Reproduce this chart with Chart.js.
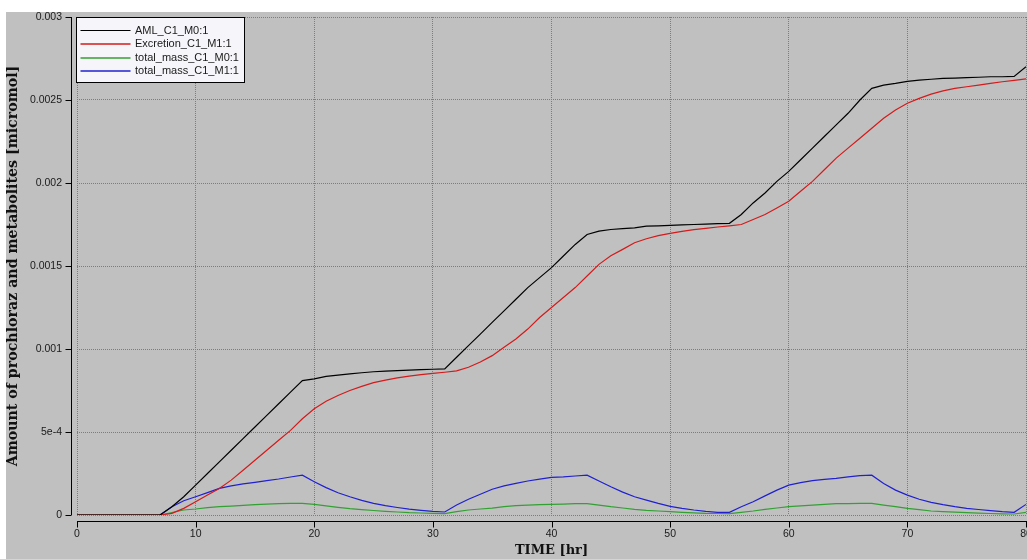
<!DOCTYPE html>
<html>
<head>
<meta charset="utf-8">
<title>Prochloraz amounts</title>
<script src="https://cdn.jsdelivr.net/npm/chart.js@4/dist/chart.umd.min.js"></script>
<style>
  html, body { margin: 0; padding: 0; background: #ffffff; }
  #wrap { width: 1027px; height: 559px; position: relative; }
</style>
</head>
<body>
<div id="wrap"><canvas id="c" width="1027" height="559"></canvas></div>
<script>
// Simulation time points [hr]
const timeHr = [0, 7, 8, 9, 10, 11, 12, 13, 14, 15, 16, 17, 18, 19, 20, 21, 22, 23, 24, 25, 26, 27, 28, 29, 30,
  31, 32, 33, 34, 35, 36, 37, 38, 39, 40, 41, 42, 43, 44, 45, 46, 47, 48, 49, 50, 51, 52, 53, 54,
  55, 56, 57, 58, 59, 60, 61, 62, 63, 64, 65, 66, 67, 68, 69, 70, 71, 72, 73, 74, 75, 76, 77, 78, 79, 80];

// Amounts [micromol]
const amlM0 = [0, 0, 0.00005, 0.00011, 0.00018, 0.00025, 0.00032, 0.00039, 0.00046, 0.00053, 0.0006, 0.00067, 0.00074, 0.00081,
  0.00082, 0.000835, 0.000843, 0.00085, 0.000857, 0.000863, 0.000867, 0.00087, 0.000873, 0.000876, 0.000878,
  0.00088, 0.00095, 0.00102, 0.00109, 0.00116, 0.00123, 0.0013, 0.00137, 0.00143, 0.00149, 0.00156, 0.00163, 0.00169,
  0.00171, 0.00172, 0.001725, 0.00173, 0.00174, 0.001742, 0.001745, 0.001748, 0.00175, 0.001752, 0.001755,
  0.001757, 0.00181, 0.00188, 0.00194, 0.00201, 0.00207, 0.00214, 0.00221, 0.00228, 0.00235, 0.00242, 0.0025, 0.00257,
  0.00259, 0.0026, 0.002612, 0.00262, 0.002625, 0.00263, 0.002632, 0.002635, 0.002637, 0.00264, 0.00264, 0.002642, 0.0027];

const excretionM1 = [0, 0, 0.00001, 0.00004, 0.00008, 0.00012, 0.00016, 0.00021, 0.00027, 0.00033, 0.00039, 0.00045, 0.00051, 0.00058,
  0.00064, 0.000685, 0.00072, 0.00075, 0.000775, 0.000797, 0.000813, 0.000826, 0.000837, 0.000846, 0.000853,
  0.00086, 0.000868, 0.00089, 0.000922, 0.00096, 0.00101, 0.00106, 0.00112, 0.00119, 0.00125, 0.00131, 0.00137, 0.00144,
  0.00151, 0.001562, 0.0016, 0.00164, 0.001664, 0.001683, 0.001697, 0.001709, 0.001719, 0.001727, 0.001735,
  0.001742, 0.00175, 0.00178, 0.00181, 0.00185, 0.00189, 0.00195, 0.00201, 0.00208, 0.00215, 0.00221, 0.00227, 0.00233,
  0.00239, 0.00244, 0.00248, 0.00251, 0.002535, 0.002555, 0.00257, 0.00258, 0.00259, 0.0026, 0.00261, 0.002618, 0.002627];

const totalMassM0 = [0, 0, 0.000015, 0.00003, 0.000036, 0.000044, 0.00005, 0.000054, 0.000058, 0.000062, 0.000066, 0.000068, 0.00007, 0.00007,
  0.000064, 0.000055, 0.000046, 0.000038, 0.000032, 0.000027, 0.000022, 0.000018, 0.000014, 0.000012, 0.00001,
  0.000008, 0.00002, 0.00003, 0.000036, 0.000042, 0.00005, 0.000056, 0.00006, 0.000062, 0.000064, 0.000066, 0.000068, 0.000068,
  0.00006, 0.00005, 0.000042, 0.000034, 0.000028, 0.000024, 0.00002, 0.000016, 0.000013, 0.00001, 0.000009,
  0.000008, 0.000016, 0.000024, 0.000034, 0.000042, 0.00005, 0.000055, 0.00006, 0.000064, 0.000068, 0.000069, 0.00007, 0.00007,
  0.00006, 0.00005, 0.00004, 0.000032, 0.000024, 0.00002, 0.000017, 0.000014, 0.000011, 0.000009, 0.000007, 0.000006, 0.000016];

const totalMassM1 = [0, 0, 0.00005, 0.000086, 0.00011, 0.000135, 0.00016, 0.000175, 0.000187, 0.000197, 0.000207, 0.000217, 0.000229, 0.00024,
  0.0002, 0.000165, 0.000134, 0.00011, 0.000088, 0.00007, 0.000056, 0.000045, 0.000035, 0.000028, 0.000022,
  0.000018, 0.00006, 0.000095, 0.000125, 0.000155, 0.000175, 0.00019, 0.000205, 0.000216, 0.000227, 0.00023, 0.000235, 0.00024,
  0.000205, 0.00017, 0.000138, 0.00011, 0.00009, 0.00007, 0.000052, 0.00004, 0.00003, 0.000022, 0.000016,
  0.000016, 0.00005, 0.00008, 0.000115, 0.00015, 0.00018, 0.000195, 0.000207, 0.000215, 0.000221, 0.00023, 0.000237, 0.00024,
  0.00019, 0.00015, 0.00012, 0.000095, 0.000076, 0.000062, 0.00005, 0.00004, 0.000033, 0.000026, 0.00002, 0.000016, 0.000064];

const seriesNames = ['AML_C1_M0:1', 'Excretion_C1_M1:1', 'total_mass_C1_M0:1', 'total_mass_C1_M1:1'];
const seriesColors = ['#000000', '#d41a1a', '#33a033', '#2020d0'];

const xTickLabels = ['0', '10', '20', '30', '40', '50', '60', '70', '80'];
const yTickLabels = ['0', '5e-4', '0.001', '0.0015', '0.002', '0.0025', '0.003'];

const toPoints = vals => timeHr.map((t, i) => ({ x: t, y: vals[i] }));
const seriesValues = [amlM0, excretionM1, totalMassM0, totalMassM1];

const tickFont = { family: 'Liberation Sans, Arial, sans-serif', size: 10.5 };
const gridStyle = {
  color: '#7c7c7c',
  lineWidth: 1,
  drawTicks: true,
  tickLength: 10,
  tickColor: 'rgba(0,0,0,0)'
};
// dotted grid lines, no border at the plot edge
const borderStyle = { display: false, dash: [1, 1] };

// Grey panel behind everything
const panelPlugin = {
  id: 'panel',
  beforeDraw(chart) {
    const ctx = chart.ctx;
    ctx.save();
    ctx.fillStyle = '#ffffff';
    ctx.fillRect(0, 0, chart.width, chart.height);
    ctx.fillStyle = '#c0c0c0';
    ctx.fillRect(6, 12, chart.width - 6, chart.height - 12);
    ctx.restore();
  }
};

// Detached axis lines with outward tick marks, and the boxed legend
const axesAndLegendPlugin = {
  id: 'axesAndLegend',
  afterDraw(chart) {
    const ctx = chart.ctx;
    const area = chart.chartArea;
    const xs = chart.scales.x, ys = chart.scales.y;
    ctx.save();
    ctx.setLineDash([]);
    ctx.strokeStyle = '#000000';
    ctx.lineWidth = 1;
    ctx.beginPath();
    const ax = Math.round(area.left) - 6 + 0.5;
    ctx.moveTo(ax, Math.round(area.top));
    ctx.lineTo(ax, Math.round(area.bottom));
    ys.ticks.forEach(t => {
      const y = Math.round(ys.getPixelForValue(t.value)) + 0.5;
      ctx.moveTo(ax - 6, y);
      ctx.lineTo(ax, y);
    });
    const ay = Math.round(area.bottom) + 6 + 0.5;
    ctx.moveTo(Math.round(area.left), ay);
    ctx.lineTo(chart.width, ay);
    xs.ticks.forEach(t => {
      const x = Math.round(xs.getPixelForValue(t.value)) + 0.5;
      ctx.moveTo(x, ay);
      ctx.lineTo(x, ay + 6);
    });
    ctx.stroke();

    // legend box
    const lx = Math.round(area.left) - 0.5, ly = Math.round(area.top) + 0.5;
    const lw = 168, lh = 65;
    ctx.fillStyle = '#f5f5fa';
    ctx.fillRect(lx, ly, lw, lh);
    ctx.strokeStyle = '#000000';
    ctx.strokeRect(lx, ly, lw, lh);
    ctx.font = '11px "Liberation Sans", Arial, sans-serif';
    ctx.textBaseline = 'middle';
    ctx.textAlign = 'left';
    chart.data.datasets.forEach((ds, i) => {
      const y = Math.round(ly + 12.5 + i * 13.4) + 0.5;
      ctx.strokeStyle = ds.borderColor;
      ctx.lineWidth = i === 0 ? 1 : 1.6;
      ctx.beginPath();
      ctx.moveTo(lx + 4, i === 0 ? y : y + 0.5);
      ctx.lineTo(lx + 54, i === 0 ? y : y + 0.5);
      ctx.stroke();
      ctx.fillStyle = '#1a1a1a';
      ctx.fillText(ds.label, lx + 58.5, y);
    });
    ctx.restore();
  }
};

new Chart(document.getElementById('c'), {
  type: 'line',
  data: {
    datasets: seriesValues.map((vals, i) => ({
      label: seriesNames[i],
      data: toPoints(vals),
      borderColor: seriesColors[i],
      backgroundColor: seriesColors[i],
      borderWidth: 1.2,
      pointRadius: 0,
      tension: 0,
      fill: false
    }))
  },
  options: {
    responsive: false,
    animation: false,
    events: [],
    layout: { padding: { top: 17, right: 1, left: 0, bottom: 0 } },
    plugins: {
      legend: { display: false },
      tooltip: { enabled: false }
    },
    scales: {
      x: {
        type: 'linear',
        min: 0,
        max: 80,
        border: borderStyle,
        grid: Object.assign({}, gridStyle),
        ticks: {
          stepSize: 10,
          padding: 3,
          maxRotation: 0,
          color: '#1a1a1a',
          font: tickFont,
          callback: (v, i) => xTickLabels[i]
        },
        title: {
          display: true,
          text: 'TIME [hr]',
          color: '#111111',
          font: { family: 'DejaVu Serif, serif', size: 13, weight: 'bold' },
          padding: { top: 0, bottom: 1 }
        },
        afterFit(scale) {
          scale.height = 44;
          scale.paddingLeft = 0;
          scale.paddingRight = 0;
        }
      },
      y: {
        type: 'linear',
        min: 0,
        max: 0.003,
        border: borderStyle,
        grid: Object.assign({}, gridStyle),
        ticks: {
          stepSize: 0.0005,
          padding: 5,
          color: '#1a1a1a',
          font: tickFont,
          callback: (v, i) => yTickLabels[i]
        },
        title: {
          display: true,
          text: 'Amount of prochloraz and metabolites [micromol]',
          color: '#111111',
          font: { family: 'DejaVu Serif, serif', size: 14.2, weight: 'bold' },
          padding: { top: 4.5, bottom: 0 }
        },
        afterFit(scale) {
          scale.width = 77;
          scale.paddingTop = 0;
          scale.paddingBottom = 0;
        }
      }
    }
  },
  plugins: [panelPlugin, axesAndLegendPlugin]
});
</script>
</body>
</html>
